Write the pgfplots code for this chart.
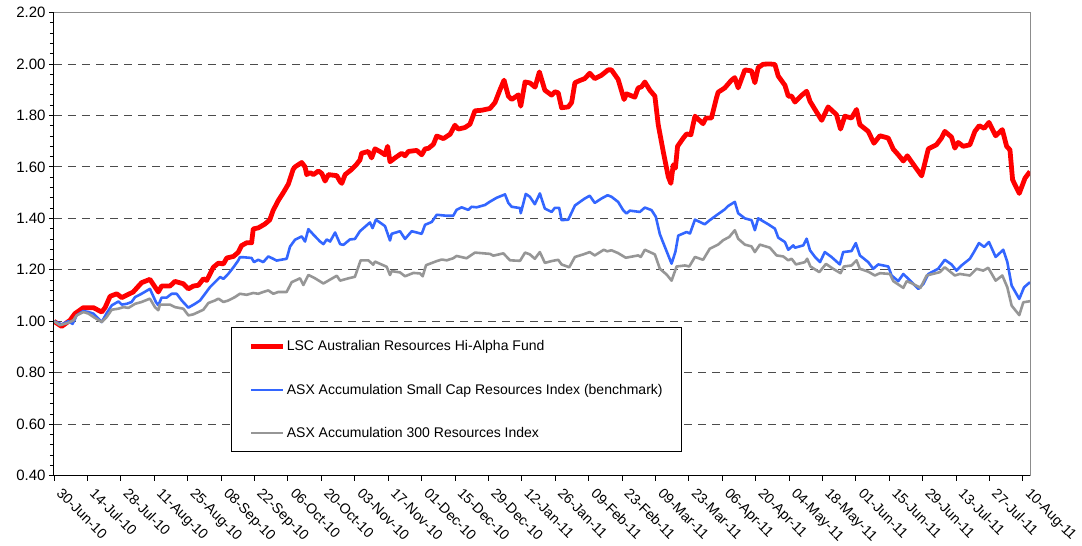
\documentclass[border=0pt]{standalone}
\usepackage{pgfplots}
\pgfplotsset{compat=1.18}
\usepackage{fontspec}
\setmainfont{Liberation Sans}
\definecolor{fundred}{RGB}{255,0,0}
\definecolor{smallblue}{RGB}{51,102,255}
\definecolor{asxgray}{RGB}{150,150,150}
\begin{document}
\begin{tikzpicture}
\begin{axis}[
  scale only axis, width=976pt, height=463.2pt,
  xmin=0, xmax=409, ymin=0.4, ymax=2.2,
  xtick={0,14,...,406},
  xticklabels={30-Jun-10,14-Jul-10,28-Jul-10,11-Aug-10,25-Aug-10,08-Sep-10,22-Sep-10,06-Oct-10,20-Oct-10,03-Nov-10,17-Nov-10,01-Dec-10,15-Dec-10,29-Dec-10,12-Jan-11,26-Jan-11,09-Feb-11,23-Feb-11,09-Mar-11,23-Mar-11,06-Apr-11,20-Apr-11,04-May-11,18-May-11,01-Jun-11,15-Jun-11,29-Jun-11,13-Jul-11,27-Jul-11,10-Aug-11},
  ytick={0.4,0.6,0.8,1.0,1.2,1.4,1.6,1.8,2.0,2.2},
  minor y tick num=4,
  tick align=outside, xtick pos=lower, ytick pos=left,
  major tick length=5pt, minor tick length=4pt,
  tick style={black, line width=0.8pt},
  ymajorgrids,
  major grid style={dash pattern=on 8pt off 6pt, black!70, line width=0.8pt},
  axis line style={black!45, line width=1pt},
  /pgf/number format/assume math mode=true,
  yticklabel style={/pgf/number format/fixed, /pgf/number format/precision=2, /pgf/number format/fixed zerofill, font=\fontsize{15}{15}\selectfont},
  xticklabel style={xshift=9pt, yshift=-5pt, rotate=-45, anchor=north west, inner sep=1pt, font=\fontsize{14.2}{14.2}\selectfont},
  legend cell align=left,
  legend image code/.code={\draw[#1] (0pt,0pt) -- (32pt,0pt);},
  legend style={at={(0.1814,0.3203)}, anchor=north west, draw=black, line width=1pt, fill=white,
    font=\fontsize{14}{14}\selectfont, inner xsep=17.5pt, inner ysep=12pt, row sep=29.5pt,
    nodes={inner sep=1pt}},
  after end axis/.code={\draw[black, line width=1pt] (rel axis cs:0,1) -- (rel axis cs:0,0) -- (rel axis cs:1,0);},
]
\addplot[fundred, line width=4.8pt, line join=round] coordinates {
(0,1.00)(3.2,0.98)(6.7,1.004)(8.8,1.03)(12.3,1.053)(16.5,1.053)(20,1.036)(21.4,1.053)(23.5,1.097)(26.3,1.107)
(28.4,1.092)(33.2,1.114)(36.7,1.15)(40.2,1.163)(43.7,1.114)(45.1,1.137)(48.6,1.137)(50.7,1.155)(54.2,1.146)(56.3,1.126)
(58.4,1.137)(60.5,1.14)(62.6,1.165)(64,1.159)(66.8,1.21)(68.9,1.226)(71,1.223)(72.4,1.246)(75.2,1.252)(77.2,1.268)
(78.6,1.294)(80.7,1.305)(82.8,1.305)(83.5,1.359)(85.6,1.363)(88.4,1.378)(90.4,1.394)(91.8,1.43)(93.9,1.468)(96.1,1.50)
(98.2,1.533)(100.2,1.59)(101,1.60)(103.8,1.617)(105.2,1.60)(105.9,1.57)(107.3,1.578)(108.7,1.57)(110.8,1.584)(112.2,1.575)
(113.6,1.545)(115,1.57)(118.5,1.566)(119.9,1.543)(120.6,1.536)(122,1.57)(124.7,1.59)(126.8,1.61)(128.2,1.627)(128.9,1.653)
(131.7,1.66)(133.1,1.635)(134.5,1.67)(136.6,1.66)(138.7,1.647)(139.8,1.68)(140.8,1.62)(142.9,1.635)(145.7,1.653)(147.1,1.643)
(148.5,1.66)(152,1.664)(154.1,1.647)(155.5,1.67)(156.9,1.672)(159,1.688)(160.4,1.72)(163.2,1.71)(166,1.727)(168,1.762)
(169.4,1.747)(172.2,1.753)(174.3,1.766)(176.4,1.818)(179.2,1.82)(182.7,1.827)(184.8,1.85)(186.9,1.90)(188.6,1.937)(190.4,1.875)
(191.8,1.862)(194.6,1.88)(195.6,1.836)(197.4,1.93)(199.5,1.926)(201.6,1.91)(203.4,1.969)(205.7,1.898)(208.5,1.879)(209.9,1.892)
(211.3,1.888)(212.7,1.83)(215.5,1.833)(216.9,1.85)(218.3,1.927)(220.4,1.936)(222.4,1.943)(224.5,1.964)(226.6,1.943)(229.4,1.956)
(232.2,1.977)(233.6,1.977)(236.4,1.94)(238.9,1.862)(239.9,1.884)(243.4,1.871)(244.8,1.907)(246.2,1.911)(247.6,1.93)(249.7,1.898)
(251.8,1.875)(253.2,1.764)(255.3,1.66)(257.4,1.562)(258.5,1.536)(259.5,1.608)(260.4,1.595)(261.3,1.68)(263.7,1.712)(265.1,1.728)
(266.9,1.725)(268.6,1.797)(272,1.768)(273.2,1.79)(275.5,1.79)(277.6,1.868)(278.3,1.89)(281.1,1.907)(283.9,1.937)(285.3,1.947)
(286.7,1.907)(289.5,1.977)(292.3,1.973)(293.7,1.927)(295.1,1.986)(297.2,1.999)(300,2.0)(302.1,1.998)(303.5,1.953)(306.3,1.917)
(307.7,1.875)(309.1,1.875)(310.5,1.852)(313.3,1.878)(315.4,1.894)(316.8,1.855)(318.9,1.823)(321.7,1.781)(324.4,1.833)(327.9,1.803)
(329.6,1.747)(331.4,1.797)(334.2,1.79)(336.3,1.823)(337.7,1.764)(341.2,1.738)(343.6,1.692)(346.1,1.721)(349.6,1.712)(351.7,1.669)
(353.8,1.647)(355.9,1.623)(357.6,1.643)(360.1,1.61)(363.6,1.565)(366.4,1.67)(369.8,1.686)(371.9,1.712)(373.3,1.738)(376.1,1.716)
(377.5,1.673)(378.9,1.695)(381,1.68)(383.8,1.686)(385.9,1.738)(387.7,1.76)(389.8,1.75)(391.8,1.773)(394.6,1.721)(397.4,1.745)
(399.2,1.68)(400.6,1.666)(401.7,1.55)(404.5,1.497)(406.9,1.556)(409,1.582)
};
\addlegendentry{LSC Australian Resources Hi-Alpha Fund}
\addplot[smallblue, line width=2.6pt, line join=round] coordinates {
(0,1.0)(3.2,0.988)(6,1.0)(7.8,0.99)(9.5,1.023)(12.3,1.04)(14.4,1.036)(16.5,1.03)(20,0.997)(22.1,1.032)
(24.2,1.062)(27,1.077)(28.4,1.065)(30.5,1.068)(32.5,1.075)(34,1.094)(36.7,1.107)(40.2,1.126)(42.7,1.075)(43.7,1.062)
(45.1,1.092)(47.2,1.092)(49.3,1.107)(51.4,1.107)(53.5,1.081)(56.3,1.053)(59.1,1.068)(61.2,1.081)(63.3,1.107)(65.4,1.133)
(68.2,1.159)(69.6,1.172)(71,1.165)(73.1,1.185)(75.2,1.21)(77.2,1.236)(77.9,1.249)(79.3,1.249)(82.8,1.246)(83.8,1.23)
(85.6,1.239)(87.7,1.23)(89.8,1.252)(91.2,1.246)(93.3,1.236)(97.5,1.243)(98.9,1.29)(101,1.317)(103.8,1.33)(105.2,1.31)
(106.6,1.358)(109.4,1.33)(111.5,1.31)(112.9,1.30)(114.3,1.318)(115.7,1.31)(117.8,1.345)(119.9,1.30)(121.3,1.297)(124,1.318)
(126.1,1.32)(128.2,1.35)(132.4,1.384)(133.5,1.362)(134.9,1.395)(138.7,1.37)(140.8,1.314)(141.5,1.34)(145,1.35)(147.1,1.32)
(149.9,1.35)(154.1,1.34)(155.5,1.375)(158.3,1.386)(160.4,1.414)(164.6,1.41)(167.3,1.41)(168.7,1.433)(170.8,1.443)(173.6,1.433)
(175,1.445)(177.1,1.443)(180.6,1.452)(182.7,1.465)(185.5,1.48)(189,1.493)(190.4,1.46)(191.8,1.445)(195.3,1.44)(195.6,1.42)
(197.7,1.495)(199.4,1.484)(201.5,1.455)(203.6,1.497)(205.7,1.438)(208.5,1.425)(209.9,1.441)(211.7,1.441)(212.7,1.393)(215.5,1.395)
(218.3,1.45)(220.4,1.464)(222.4,1.477)(224.5,1.488)(226.6,1.46)(229.4,1.477)(232,1.49)(233.6,1.484)(236.4,1.464)(238.5,1.432)
(239.9,1.419)(241.3,1.43)(245.5,1.425)(247.6,1.442)(250.4,1.432)(252.2,1.406)(253.9,1.338)(256,1.289)(258.8,1.224)(260.4,1.27)
(261.6,1.333)(265.1,1.347)(266.5,1.341)(268.6,1.395)(272.7,1.377)(274.8,1.393)(277.6,1.412)(281.1,1.435)(282.5,1.448)(285.3,1.464)
(286.7,1.42)(289.5,1.40)(292.3,1.393)(293.7,1.354)(295.1,1.40)(299.3,1.377)(302.1,1.36)(303.5,1.325)(306.3,1.308)(307.7,1.278)
(309.8,1.295)(310.5,1.286)(314,1.295)(315.4,1.321)(316.8,1.276)(318.9,1.25)(321,1.23)(323,1.269)(325.8,1.25)(329.3,1.221)
(330.7,1.269)(334.2,1.273)(336,1.304)(337.7,1.256)(341.2,1.23)(343.3,1.204)(345.4,1.221)(349.6,1.213)(351,1.178)(353.8,1.156)
(355.9,1.184)(358,1.165)(362.2,1.126)(364.3,1.145)(366.4,1.184)(370.5,1.204)(373.3,1.239)(376.1,1.221)(378.2,1.197)(380.3,1.217)
(383.8,1.243)(385.5,1.269)(387.6,1.304)(389.8,1.289)(391.8,1.308)(394.6,1.25)(397.8,1.278)(399.5,1.23)(401.3,1.139)(404.5,1.087)
(406.5,1.132)(409,1.152)
};
\addlegendentry{ASX Accumulation Small Cap Resources Index (benchmark)}
\addplot[asxgray, line width=2.6pt, line join=round] coordinates {
(0,1.0)(2.5,0.985)(6,0.994)(8.1,1.004)(9.5,1.023)(12.3,1.036)(14.4,1.03)(16.5,1.017)(20,0.997)(22.1,1.017)
(24.2,1.045)(27,1.049)(29.1,1.055)(31.2,1.052)(34,1.068)(36.7,1.075)(40.2,1.088)(42.3,1.055)(43.7,1.043)(44.4,1.065)
(48.6,1.065)(50.7,1.055)(54.2,1.049)(56.3,1.023)(58.4,1.027)(60.5,1.036)(62.6,1.045)(64.7,1.071)(67.5,1.081)(68.9,1.088)
(71,1.075)(73.1,1.081)(75.8,1.094)(77.9,1.107)(80.7,1.103)(83.5,1.11)(85.6,1.107)(87.7,1.114)(89.8,1.12)(91.9,1.107)
(94,1.114)(97.5,1.114)(99.6,1.152)(103.1,1.167)(104.5,1.141)(106.6,1.18)(109.4,1.167)(112.9,1.147)(118.5,1.177)(119.9,1.158)
(123.4,1.167)(126.1,1.173)(128.5,1.237)(131.7,1.237)(133.8,1.22)(134.5,1.232)(139.4,1.212)(140.8,1.18)(141.5,1.195)(145,1.19)
(147.1,1.175)(150.6,1.188)(153.4,1.186)(154.5,1.175)(155.9,1.218)(160.4,1.234)(162.5,1.24)(164.6,1.237)(167.3,1.245)(168.7,1.254)
(172.9,1.245)(176.4,1.267)(182.7,1.262)(184.1,1.255)(188.3,1.264)(191.1,1.237)(195.3,1.235)(197.4,1.267)(199.4,1.26)(201.5,1.243)
(203.6,1.269)(205.7,1.227)(208.5,1.234)(211.3,1.239)(212.7,1.221)(215.9,1.21)(218.3,1.25)(221.8,1.26)(224.5,1.269)(226.6,1.256)
(230.4,1.278)(231.8,1.272)(233.6,1.276)(236.4,1.265)(239.6,1.247)(244.8,1.256)(245.9,1.25)(247.6,1.278)(251.8,1.26)(253.9,1.204)
(256.7,1.182)(258.8,1.158)(260.9,1.213)(264.4,1.217)(266.2,1.213)(268.6,1.25)(272,1.239)(274.8,1.282)(278.3,1.298)(280.4,1.315)
(283,1.328)(285.3,1.354)(286.7,1.321)(289.5,1.298)(292.3,1.291)(293.7,1.269)(295.8,1.298)(300,1.286)(302.8,1.256)(305.6,1.252)
(307.7,1.237)(309.1,1.243)(310.9,1.221)(314.7,1.23)(315.6,1.243)(317,1.213)(320.7,1.191)(323.5,1.223)(326.5,1.204)(329.6,1.187)
(331,1.213)(334.2,1.217)(336.3,1.237)(337.7,1.204)(341.2,1.193)(344,1.178)(346.1,1.187)(350.3,1.184)(351.7,1.156)(355.9,1.13)
(357.3,1.156)(359.4,1.148)(363.1,1.13)(365.7,1.178)(371.2,1.191)(373.3,1.21)(377.5,1.178)(379.6,1.184)(383.8,1.178)(386.6,1.204)
(389.4,1.197)(391.5,1.208)(394.6,1.158)(397.4,1.178)(399.5,1.132)(401.3,1.061)(404.5,1.024)(406.2,1.074)(409,1.078)
};
\addlegendentry{ASX Accumulation 300 Resources Index}
\end{axis}
\pgfresetboundingbox
\useasboundingbox (-54pt,-70.3pt) rectangle (1028pt,475.7pt);
\end{tikzpicture}
\end{document}
